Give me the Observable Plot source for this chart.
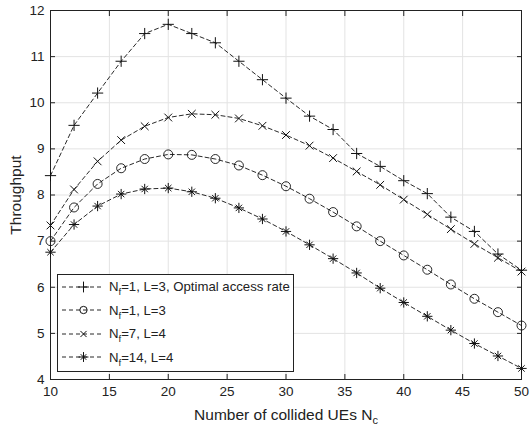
<!DOCTYPE html>
<html>
<head>
<meta charset="utf-8">
<script src="https://cdn.jsdelivr.net/npm/d3@7"></script>
<script src="https://cdn.jsdelivr.net/npm/@observablehq/plot@0.6"></script>
<style>
  html, body { margin: 0; padding: 0; background: #fff; }
  #wrap { position: relative; width: 530px; height: 430px; font-family: "Liberation Sans", Arial, sans-serif; }
  #legend { position: absolute; border: 1px solid #222; background: #fff; font-size: 13.2px; color: #222; box-sizing: border-box; }
  #legend .row { display: flex; align-items: center; height: 23.5px; white-space: nowrap; }
  #legend .row svg { flex: none; }
  #legend sub { font-size: 9.5px; vertical-align: -4px; line-height: 0; }
</style>
</head>
<body>
<div id="wrap"></div>
<script>
const nc = [10,12,14,16,18,20,22,24,26,28,30,32,34,36,38,40,42,44,46,48,50];
const optimalNf1L3 = [8.42,9.51,10.21,10.9,11.5,11.7,11.5,11.3,10.9,10.5,10.1,9.71,9.42,8.9,8.62,8.31,8.03,7.52,7.21,6.72,6.37];
const nf1L3 = [7.0,7.73,8.24,8.58,8.78,8.88,8.87,8.78,8.64,8.43,8.19,7.92,7.63,7.32,7.0,6.69,6.38,6.06,5.75,5.46,5.17];
const nf7L4 = [7.34,8.12,8.73,9.19,9.49,9.68,9.76,9.74,9.66,9.5,9.3,9.07,8.8,8.51,8.22,7.9,7.58,7.26,6.94,6.64,6.34];
const nf14L4 = [6.76,7.36,7.76,8.02,8.13,8.15,8.07,7.93,7.72,7.48,7.21,6.92,6.62,6.31,5.98,5.67,5.37,5.07,4.78,4.51,4.24];
const xTicks = [10,15,20,25,30,35,40,45,50];
const yTicks = [4,5,6,7,8,9,10,11,12];
const seriesNames = ["Optimal", "Nf1L3", "Nf7L4", "Nf14L4"];
const legendMain = ["N", "N", "N", "N"];
const legendSub = ["f", "f", "f", "f"];
const legendRest = ["=1, L=3, Optimal access rate", "=1, L=3", "=7, L=4", "=14, L=4"];

const seriesValues = [optimalNf1L3, nf1L3, nf7L4, nf14L4];
const rows = [];
seriesNames.forEach((s, i) => nc.forEach((x, j) => rows.push({series: s, x, y: seriesValues[i][j]})));
const of = s => rows.filter(r => r.series === s);

const ink = "#111";
const dash = "4,3";
const fontFam = "'Liberation Sans', Arial, sans-serif";

const chart = Plot.plot({
  width: 530, height: 430,
  marginLeft: 50, marginRight: 9, marginTop: 10, marginBottom: 51,
  style: {fontFamily: fontFam, fontSize: "13.5px", color: "#222", background: "#fff"},
  x: {domain: [10, 50], label: null},
  y: {domain: [4, 12], label: null},
  marks: [
    Plot.gridX(xTicks, {stroke: "#e3e3e3", strokeOpacity: 1}),
    Plot.gridY(yTicks, {stroke: "#e3e3e3", strokeOpacity: 1}),
    Plot.axisX(xTicks, {anchor: "bottom", tickSize: -5, tickPadding: 12, label: null, stroke: "#222", fill: "#222"}),
    Plot.axisX(xTicks, {anchor: "top", tickSize: -5, tickFormat: () => "", label: null, stroke: "#222"}),
    Plot.axisY(yTicks, {anchor: "left", tickSize: -5, tickPadding: 11, label: null, stroke: "#222", fill: "#222"}),
    Plot.axisY(yTicks, {anchor: "right", tickSize: -5, tickFormat: () => "", label: null, stroke: "#222"}),
    Plot.frame({stroke: "#222", strokeWidth: 1}),
    ...seriesNames.map(s => Plot.line(of(s), {x: "x", y: "y", stroke: ink, strokeWidth: 0.9, strokeDasharray: dash})),
    Plot.dot(of("Optimal"), {x: "x", y: "y", symbol: "plus", r: 3.7, stroke: ink, strokeWidth: 1}),
    Plot.dot(of("Nf1L3"), {x: "x", y: "y", symbol: "circle", r: 4.5, stroke: ink, fill: "none", strokeWidth: 0.9}),
    Plot.dot(of("Nf7L4"), {x: "x", y: "y", symbol: "times", r: 3.6, stroke: ink, strokeWidth: 1}),
    Plot.dot(of("Nf14L4"), {x: "x", y: "y", symbol: "plus", r: 3.4, stroke: ink, strokeWidth: 1}),
    Plot.dot(of("Nf14L4"), {x: "x", y: "y", symbol: "times", r: 3.0, stroke: ink, strokeWidth: 1})
  ]
});

const wrap = document.getElementById("wrap");
wrap.appendChild(chart);

// axis titles (real text, with subscript)
const svg = d3.select(chart);
const xt = svg.append("text")
  .attr("x", 286).attr("y", 420)
  .attr("text-anchor", "middle")
  .attr("font-size", "15.5px").attr("fill", "#222")
  .attr("font-family", fontFam);
xt.append("tspan").text("Number of collided UEs N");
xt.append("tspan").attr("font-size", "11px").attr("dy", 4).text("c");
svg.append("text")
  .attr("transform", "translate(21,195) rotate(-90)")
  .attr("text-anchor", "middle")
  .attr("font-size", "15.5px").attr("fill", "#222")
  .attr("font-family", fontFam)
  .text("Throughput");

// legend
const leg = document.createElement("div");
leg.id = "legend";
Object.assign(leg.style, {left: "57px", top: "274px", width: "237px", height: "98px", paddingTop: "0px"});
const symbolsForLegend = [[d3.symbolPlus], [d3.symbolCircle], [d3.symbolTimes], [d3.symbolPlus, d3.symbolTimes]];
const symbolSizes = [[40], [42], [26], [34, 22]];
seriesNames.forEach((s, i) => {
  const row = document.createElement("div");
  row.className = "row";
  const sv = d3.create("svg").attr("width", 50).attr("height", 20);
  sv.append("line").attr("x1", 4).attr("x2", 45).attr("y1", 10).attr("y2", 10)
    .attr("stroke", ink).attr("stroke-width", 0.9).attr("stroke-dasharray", dash);
  symbolsForLegend[i].forEach((sym, k) => {
    sv.append("path").attr("transform", "translate(25.5,10)")
      .attr("d", d3.symbol(sym, symbolSizes[i][k])())
      .attr("fill", "none").attr("stroke", ink).attr("stroke-width", 1);
  });
  row.appendChild(sv.node());
  const label = document.createElement("span");
  label.style.marginLeft = "1px";
  label.innerHTML = legendMain[i] + "<sub>" + legendSub[i] + "</sub>" + legendRest[i];
  row.appendChild(label);
  leg.appendChild(row);
});
wrap.appendChild(leg);
</script>
</body>
</html>
